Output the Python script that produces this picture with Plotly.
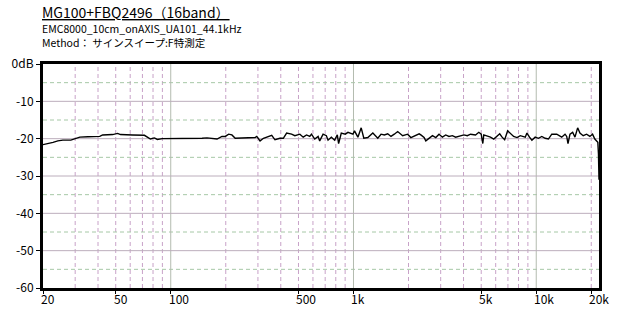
import math
import plotly.graph_objects as go

# ---- data ----
freq_hz = [20, 21.3, 22.7, 24.1, 25.7, 28.4, 29.9, 31.8, 35.2, 40.9, 42.4, 48.1, 51.2, 53.1,
           61.8, 71.8, 74.5, 77.4, 81.4, 84.5, 89.9, 115.6, 131, 148.4, 158, 179.2,
           190.7, 198.8, 207.4, 216.1, 225.3, 255.3, 289.4, 295.7, 308.1, 321.6, 342.4,
           356.9, 371.9, 395.8, 413.1, 430.6, 458.4, 477.7, 508.7, 530.8, 553.3, 576.7,
           589.0, 613.9, 640.5, 653.4, 681.8, 710.6, 725.8, 756.5, 788.5, 815.5, 829.0,
           857.6, 901.6, 932.7, 992.8, 1013, 1057, 1102, 1139, 1198, 1276, 1329, 1358,
           1415, 1475, 1539, 1604, 1672, 1745, 1858, 1978, 2061, 2194, 2287,
           2336, 2434, 2487, 2592, 2705, 2820, 2938, 3066, 3196, 3331, 3476, 3623, 3857,
           4019, 4194, 4372, 4653, 4850, 4998, 5100, 5164, 5389, 5617, 5855, 6055, 6311,
           6503, 6717, 6975, 7214, 7520, 7848, 8178, 8708, 8892, 9186, 9467, 9866, 10280,
           10730, 11190, 11660, 12160, 12950, 13780, 14370, 14680, 14920, 15300, 15820,
           16290, 16850, 17340, 18070, 18860, 19650, 20330, 20920, 21370, 21730, 21900,
           22050]
level_db = [-21.6, -21.4, -21.0, -20.6, -20.4, -20.4, -20.0, -19.6, -19.5, -19.4, -19.0, -18.9,
            -18.6, -18.9, -19.0, -19.1, -19.6, -20.1, -19.8, -20.2, -20.0, -20.0, -20.1,
            -19.9, -19.8, -20.1,
            -19.4, -19.4, -18.8, -19.0, -19.9, -19.9, -19.7, -19.4, -20.6, -19.9, -19.4,
            -19.1, -20.3, -19.9, -19.9, -18.5, -18.8, -19.2, -18.8, -19.6, -19.0, -19.4,
            -18.8, -20.1, -19.4, -20.6, -18.8, -19.2, -20.4, -19.6, -20.4, -19.0, -21.3,
            -18.5, -18.8, -18.3, -18.8, -17.9, -19.6, -17.1, -19.9, -19.7, -18.5, -19.4, -19.9,
            -18.8, -19.0, -18.7, -19.4, -18.8, -18.1, -19.2, -18.8, -19.7, -19.0, -18.7,
            -19.0, -19.7, -20.6, -19.9, -19.2, -19.7, -18.8, -19.6, -19.0, -19.4, -19.2, -19.6, -19.2,
            -19.0, -19.2, -18.8, -19.0, -18.3, -18.8, -21.3, -19.0, -19.2, -19.6, -20.1, -19.4, -18.7,
            -19.6, -20.3, -17.9, -18.7, -19.4, -19.7, -19.2, -19.6, -18.5, -19.6, -20.4, -19.6, -19.9,
            -19.4, -19.9, -20.1, -18.8, -18.8, -19.6, -18.8, -19.4, -21.3, -18.8, -18.3,
            -19.6, -17.1, -18.5, -19.2, -18.8, -19.4, -18.8, -20.1, -20.8, -21.0, -24.0,
            -31.0]

x_tick_vals = [20, 50, 100, 500, 1000, 5000, 10000, 20000]
x_tick_text = ["20", "50", "100", "500", "1k", "5k", "10k", "20k"]
y_tick_vals = [0, -10, -20, -30, -40, -50, -60]
y_tick_text = ["0dB", "-10", "-20", "-30", "-40", "-50", "-60"]

grid_minor_freqs = [30, 40, 50, 60, 70, 80, 90, 200, 300, 400, 500, 600, 700, 800, 900,
                    2000, 3000, 4000, 5000, 6000, 7000, 8000, 9000, 20000]
grid_major_freqs = [100, 1000, 10000]
grid_minor_db = [-5, -15, -25, -35, -45, -55]
grid_major_db = [-10, -20, -30, -40, -50]

title_text = "MG100+FBQ2496（16band）"
sub1_text = "EMC8000_10cm_onAXIS_UA101_44.1kHz"
sub2_text = "Method： サインスイープ:F特測定"

F_MIN, F_MAX = 20, 22050
DB_MIN, DB_MAX = -60, 0

FONT = "Noto Sans CJK JP, Noto Sans, sans-serif"


def vlines(freqs):
    xs, ys = [], []
    for f in freqs:
        xs += [f, f, None]
        ys += [DB_MIN, DB_MAX, None]
    return xs, ys


def hlines(dbs):
    xs, ys = [], []
    for d in dbs:
        xs += [F_MIN, F_MAX, None]
        ys += [d, d, None]
    return xs, ys


fig = go.Figure()

vx, vy = vlines(grid_minor_freqs)
fig.add_trace(go.Scatter(x=vx, y=vy, mode="lines", hoverinfo="skip",
                         line=dict(color="#c8a2c8", width=1, dash="4px,3px")))
hx, hy = hlines(grid_minor_db)
fig.add_trace(go.Scatter(x=hx, y=hy, mode="lines", hoverinfo="skip",
                         line=dict(color="#a6c8a6", width=1, dash="4px,3px")))
vx, vy = vlines(grid_major_freqs)
fig.add_trace(go.Scatter(x=vx, y=vy, mode="lines", hoverinfo="skip",
                         line=dict(color="#b4bcb0", width=1)))
hx, hy = hlines(grid_major_db)
fig.add_trace(go.Scatter(x=hx, y=hy, mode="lines", hoverinfo="skip",
                         line=dict(color="#bcaebc", width=1)))

fig.add_trace(go.Scatter(x=freq_hz, y=level_db, mode="lines",
                         line=dict(color="black", width=1.4), hoverinfo="skip"))

annotations = []
for v, t in zip(x_tick_vals, x_tick_text):
    annotations.append(dict(x=math.log10(v), xref="x", y=0, yref="paper",
                            text=t, showarrow=False, xanchor="left", yanchor="top",
                            xshift=-3, yshift=-1, borderpad=0,
                            font=dict(family=FONT, size=12, color="black")))

annotations.append(dict(x=0, xref="paper", y=1 + 52 / 224, yref="paper",
                        text="<u>" + title_text + "</u>", showarrow=False,
                        xanchor="left", yanchor="middle", xshift=-2, borderpad=0,
                        font=dict(family=FONT, size=14, color="black")))
annotations.append(dict(x=0, xref="paper", y=1 + 35.5 / 224, yref="paper",
                        text=sub1_text, showarrow=False,
                        xanchor="left", yanchor="middle", xshift=-2, borderpad=0,
                        font=dict(family=FONT, size=10.5, color="black")))
annotations.append(dict(x=0, xref="paper", y=1 + 21.5 / 224, yref="paper",
                        text=sub2_text, showarrow=False,
                        xanchor="left", yanchor="middle", xshift=-2, borderpad=0,
                        font=dict(family=FONT, size=10.5, color="black")))

fig.update_layout(
    width=640, height=320,
    margin=dict(l=40, r=41, t=64, b=32, pad=0),
    paper_bgcolor="white", plot_bgcolor="white",
    showlegend=False,
    font=dict(family=FONT, size=12, color="black"),
    annotations=annotations,
    xaxis=dict(type="log", range=[math.log10(F_MIN), math.log10(F_MAX)],
               showgrid=False, zeroline=False,
               tickvals=x_tick_vals, showticklabels=False,
               ticks="outside", ticklen=3, tickcolor="black", tickwidth=1,
               showline=True, linecolor="black", linewidth=3, mirror=True),
    yaxis=dict(range=[DB_MIN, DB_MAX], showgrid=False, zeroline=False,
               tickvals=y_tick_vals, ticktext=y_tick_text,
               ticks="outside", ticklen=4, tickcolor="black", tickwidth=1,
               tickfont=dict(family=FONT, size=12, color="black"),
               showline=True, linecolor="black", linewidth=3, mirror=True),
)

fig.write_html("out.html")
